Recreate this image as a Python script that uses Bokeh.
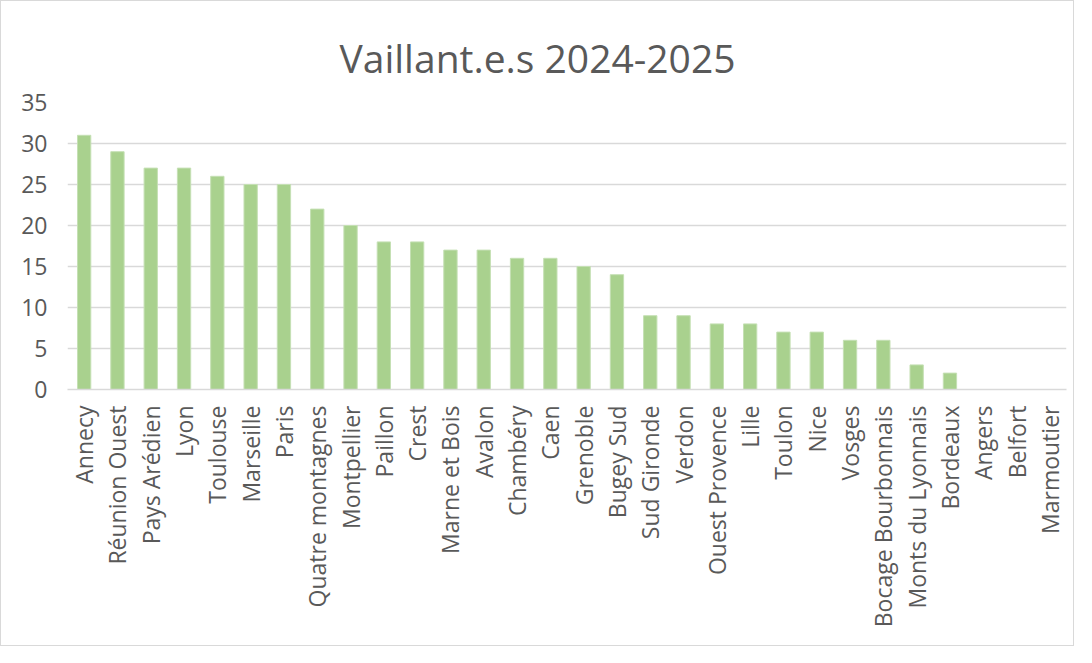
from bokeh.plotting import figure
from bokeh.embed import file_html
from bokeh.resources import INLINE
from bokeh.models import ColumnDataSource, FixedTicker

categories = ["Annecy", "Réunion Ouest", "Pays Arédien", "Lyon", "Toulouse", "Marseille",
              "Paris", "Quatre montagnes", "Montpellier", "Paillon", "Crest", "Marne et Bois",
              "Avalon", "Chambéry", "Caen", "Grenoble", "Bugey Sud", "Sud Gironde", "Verdon",
              "Ouest Provence", "Lille", "Toulon", "Nice", "Vosges", "Bocage Bourbonnais",
              "Monts du Lyonnais", "Bordeaux", "Angers", "Belfort", "Marmoutier"]
values = [31, 29, 27, 27, 26, 25, 25, 22, 20, 18, 18, 17, 17, 16, 16, 15, 14, 9, 9, 8, 8,
          7, 7, 6, 6, 3, 2, 0, 0, 0]
y_ticks = [0, 5, 10, 15, 20, 25, 30, 35]
title_text = "Vaillant.e.s  2024-2025"

FONT = "Open Sans"
TXT = "#595959"

src = ColumnDataSource(dict(cat=categories, val=values))

p = figure(x_range=categories, y_range=(0, 35), width=1074, height=646,
           output_backend="svg", toolbar_location=None, title=title_text)
p.min_border_left = 66
p.min_border_right = 9
p.min_border_top = 101
p.min_border_bottom = 258

p.vbar(x="cat", top="val", width=0.4, source=src, fill_color="#A9D18E",
       line_color="#C5E0B4", line_width=1)

p.title.text_font = FONT
p.title.text_font_size = "39px"
p.title.text_font_style = "normal"
p.title.text_color = TXT
p.title.align = "left"
p.title.offset = 272
p.title.standoff = 34
p.title.vertical_align = "top"

p.yaxis.ticker = FixedTicker(ticks=y_ticks)
p.yaxis.axis_line_color = None
p.yaxis.major_tick_line_color = None
p.yaxis.minor_tick_line_color = None
p.yaxis.major_label_text_font = FONT
p.yaxis.major_label_text_font_size = "23px"
p.yaxis.major_label_text_color = TXT
p.yaxis.major_label_standoff = 14

p.xaxis.axis_line_color = "#D9D9D9"
p.xaxis.axis_line_width = 1.5
p.xaxis.major_tick_line_color = None
p.xaxis.minor_tick_line_color = None
p.xaxis.major_label_orientation = 1.5707963
p.xaxis.major_label_text_font = FONT
p.xaxis.major_label_text_font_size = "23px"
p.xaxis.major_label_text_color = TXT
p.xaxis.major_label_standoff = 10

p.xgrid.grid_line_color = None
p.ygrid.grid_line_color = "#D9D9D9"
p.ygrid.grid_line_width = 1.5
p.outline_line_color = None
p.x_range.range_padding = 0
p.styles = {"border": "1px solid #D9D9D9"}

open("out.html", "w").write(file_html(p, INLINE))
